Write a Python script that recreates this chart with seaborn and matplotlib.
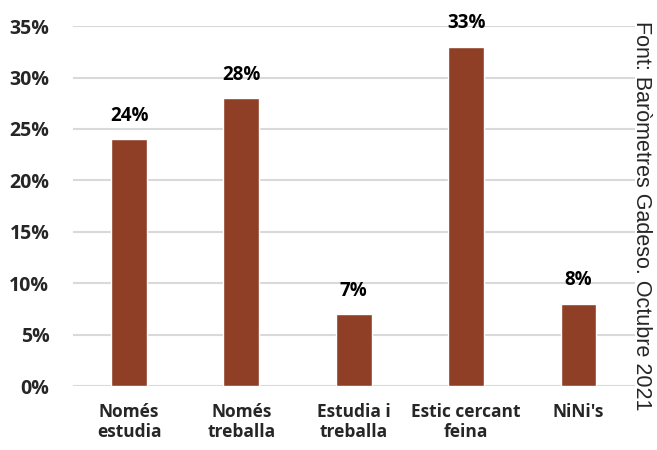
import matplotlib
matplotlib.use("Agg")
import matplotlib.pyplot as plt
import seaborn as sns
import pandas as pd

# Dades
categories = ["Només\nestudia", "Només\ntreballa", "Estudia i\ntreballa", "Estic cercant\nfeina", "NiNi's"]
valors = [24, 28, 7, 33, 8]
yticks = [0, 5, 10, 15, 20, 25, 30, 35]

df = pd.DataFrame({"categoria": categories, "valor": valors})

sns.set_style("white")
plt.rcParams['font.family'] = ['Open Sans', 'DejaVu Sans']

fig = plt.figure(figsize=(6.57, 4.5), dpi=100)
ax = fig.add_axes([0.111, 0.142, 0.855, 0.80])

sns.barplot(data=df, x="categoria", y="valor", color="#8F3F25", width=0.32,
            saturation=1, ax=ax, zorder=3)

for i, v in enumerate(valors):
    ax.text(i, v + 1.3, f"{v}%", ha="center", va="bottom",
            fontsize=13.5, fontweight="bold", color="#000000")

ax.set_ylim(0, 35)
ax.set_xlim(-0.5, 4.5)
ax.set_yticks(yticks)
ax.set_yticklabels([f"{t}%" for t in yticks], fontsize=14, fontweight="bold")
ax.set_xticklabels(categories, fontsize=12.5, fontweight="bold", linespacing=1.15)
ax.tick_params(axis="both", length=0)
ax.tick_params(axis="y", pad=17)
ax.tick_params(axis="x", pad=12)
ax.set_xlabel("")
ax.set_ylabel("")
ax.yaxis.grid(True, color="#D9D9D9", linewidth=1.5, zorder=0)
for s in ax.spines.values():
    s.set_visible(False)

fig.text(0.977, 0.52, "Font: Baròmetres Gadeso. Octubre 2021", rotation=-90,
         ha="center", va="center", fontsize=15.5, family="Liberation Sans")

plt.savefig("out.png", dpi=100)
